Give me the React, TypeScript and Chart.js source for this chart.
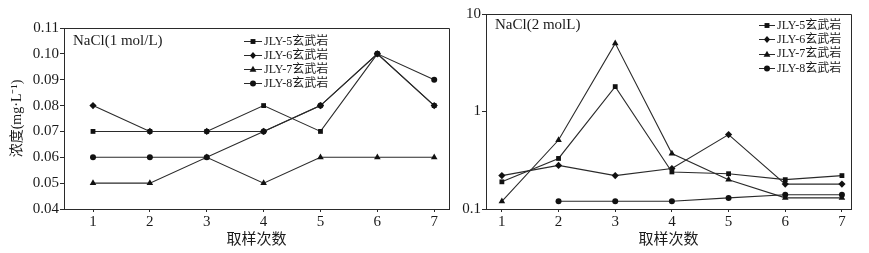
import React, { useEffect, useRef } from 'react';
import { Chart, registerables } from 'chart.js';

Chart.register(...registerables);

// ---------- data ----------
const samples = [1, 2, 3, 4, 5, 6, 7];
const seriesNames = ['JLY-5玄武岩', 'JLY-6玄武岩', 'JLY-7玄武岩', 'JLY-8玄武岩'];
const pointStyles = ['rect', 'rectRot', 'triangle', 'circle'];

// NaCl 1 mol/L
const jly5_1 = [0.07, 0.07, 0.07, 0.08, 0.07, 0.10, 0.08];
const jly6_1 = [0.08, 0.07, 0.07, 0.07, 0.08, 0.10, 0.08];
const jly7_1 = [0.05, 0.05, 0.06, 0.05, 0.06, 0.06, 0.06];
const jly8_1 = [0.06, 0.06, 0.06, 0.07, 0.08, 0.10, 0.09];

// NaCl 2 mol/L
const jly5_2 = [0.19, 0.33, 1.8, 0.24, 0.23, 0.20, 0.22];
const jly6_2 = [0.22, 0.28, 0.22, 0.26, 0.58, 0.18, 0.18];
const jly7_2 = [0.12, 0.51, 5.0, 0.37, 0.20, 0.13, 0.13];
const jly8_2 = [null, 0.12, 0.12, 0.12, 0.13, 0.14, 0.14];

const yTicks1 = [0.04, 0.05, 0.06, 0.07, 0.08, 0.09, 0.10, 0.11];
const yTicks2 = [0.1, 1, 10];
const title1 = 'NaCl(1 mol/L)';
const title2 = 'NaCl(2 molL)';
const yAxisTitle = '浓度(mg·L⁻¹)';
const xAxisTitle = '取样次数';

// ---------- styling ----------
const FONT = "'Liberation Serif', 'Noto Sans CJK SC', serif";
const INK = '#1a1a1a';
const LINE = '#2a2a2a';
const radii = [3.4, 3.6, 3.8, 3.0];

function drawMarker(ctx: CanvasRenderingContext2D, style: string, x: number, y: number, r: number) {
  ctx.beginPath();
  switch (style) {
    case 'rect':
      ctx.rect(x - r * 0.72, y - r * 0.72, r * 1.44, r * 1.44);
      break;
    case 'rectRot':
      ctx.moveTo(x, y - r);
      ctx.lineTo(x + r * 0.85, y);
      ctx.lineTo(x, y + r);
      ctx.lineTo(x - r * 0.85, y);
      ctx.closePath();
      break;
    case 'triangle':
      ctx.moveTo(x, y - r);
      ctx.lineTo(x + r * 0.9, y + r * 0.6);
      ctx.lineTo(x - r * 0.9, y + r * 0.6);
      ctx.closePath();
      break;
    default:
      ctx.arc(x, y, r, 0, Math.PI * 2);
  }
  ctx.fill();
}

const frameLegendPlugin = {
  id: 'frameLegend',
  afterDraw(chart: any, _args: any, opts: any) {
    const { ctx, chartArea: a } = chart;
    const al = (p: number) => Math.round(p - 0.5) + 0.5;
    ctx.save();
    ctx.strokeStyle = LINE;
    ctx.lineWidth = 1;
    ctx.beginPath();
    ctx.moveTo(al(a.left), al(a.top));
    ctx.lineTo(al(a.right), al(a.top));
    ctx.lineTo(al(a.right), al(a.bottom));
    ctx.stroke();

    // panel title
    ctx.fillStyle = INK;
    ctx.font = `15px ${FONT}`;
    ctx.textBaseline = 'middle';
    ctx.textAlign = 'left';
    ctx.fillText(opts.title, opts.titleX, opts.titleY);

    // legend
    ctx.font = `12px ${FONT}`;
    for (let i = 0; i < seriesNames.length; i++) {
      const y = opts.legY + i * opts.legGap;
      ctx.strokeStyle = LINE;
      ctx.beginPath();
      ctx.moveTo(opts.legX0, Math.round(y) + 0.5);
      ctx.lineTo(opts.legX1, Math.round(y) + 0.5);
      ctx.stroke();
      ctx.fillStyle = '#111';
      drawMarker(ctx, pointStyles[i], (opts.legX0 + opts.legX1) / 2, Math.round(y) + 0.5, radii[i]);
      ctx.fillStyle = INK;
      ctx.fillText(seriesNames[i], opts.legX1 + 2, y + 0.5);
    }
    ctx.restore();
  },
};

type PanelCfg = {
  left: number;
  width: number;
  series: (number | null)[][];
  log: boolean;
  yMin: number;
  yMax: number;
  yTicks: number[];
  yLabel: (v: number) => string;
  yWidth: number;
  yTitle: boolean;
  xMin: number;
  xMax: number;
  padRight: number;
  padTop: number;
  tickPad: number;
  plug: any;
};

function buildConfig(c: PanelCfg): any {
  return {
    type: 'line',
    data: {
      datasets: c.series.map((vals, i) => ({
        label: seriesNames[i],
        data: samples.map((s, j) => ({ x: s, y: vals[j] })),
        borderColor: LINE,
        borderWidth: 1.1,
        pointStyle: pointStyles[i],
        pointRadius: radii[i],
        pointBackgroundColor: '#111',
        pointBorderColor: '#111',
        pointBorderWidth: 0,
        tension: 0,
        spanGaps: false,
      })),
    },
    options: {
      responsive: false,
      animation: false,
      events: [],
      layout: { padding: { left: 0, right: c.padRight, top: c.padTop, bottom: 0 } },
      plugins: {
        legend: { display: false },
        tooltip: { enabled: false },
        frameLegend: c.plug,
      },
      scales: {
        x: {
          type: 'linear',
          min: c.xMin,
          max: c.xMax,
          afterBuildTicks: (s: any) => {
            s.ticks = samples.map((v) => ({ value: v }));
          },
          afterFit: (s: any) => {
            s.height = 44;
          },
          ticks: {
            font: { family: FONT, size: 15 },
            color: INK,
            padding: 1,
            maxRotation: 0,
            callback: (v: any) => String(v),
          },
          grid: { drawOnChartArea: false, drawTicks: true, tickLength: 3, color: LINE },
          border: { color: LINE, width: 1 },
          title: {
            display: true,
            text: xAxisTitle,
            font: { family: FONT, size: 15 },
            color: INK,
            padding: { top: 0, bottom: 4 },
          },
        },
        y: {
          type: c.log ? 'logarithmic' : 'linear',
          min: c.yMin,
          max: c.yMax,
          afterBuildTicks: (s: any) => {
            s.ticks = c.yTicks.map((v) => ({ value: v }));
          },
          afterFit: (s: any) => {
            s.width = c.yWidth;
          },
          ticks: {
            font: { family: FONT, size: 15 },
            color: INK,
            padding: c.tickPad,
            callback: (v: any) => c.yLabel(Number(v)),
          },
          grid: { drawOnChartArea: false, drawTicks: true, tickLength: 4, color: LINE },
          border: { color: LINE, width: 1 },
          title: {
            display: c.yTitle,
            text: yAxisTitle,
            font: { family: FONT, size: 14 },
            color: INK,
            padding: { top: 9, bottom: 0 },
          },
        },
      },
    },
    plugins: [frameLegendPlugin],
  };
}

function Panel({ cfg }: { cfg: PanelCfg }) {
  const ref = useRef<HTMLCanvasElement>(null);
  useEffect(() => {
    const chart = new Chart(ref.current as HTMLCanvasElement, buildConfig(cfg));
    return () => chart.destroy();
  }, []);
  return (
    <canvas
      ref={ref}
      width={cfg.width}
      height={253}
      style={{ position: 'absolute', left: cfg.left, top: 0, width: cfg.width, height: 253 }}
    />
  );
}

const leftPanel: PanelCfg = {
  left: 0,
  width: 460,
  series: [jly5_1, jly6_1, jly7_1, jly8_1],
  log: false,
  yMin: 0.04,
  yMax: 0.11,
  yTicks: yTicks1,
  yLabel: (v) => v.toFixed(2),
  yWidth: 64,
  yTitle: true,
  xMin: 0.49,
  xMax: 7.26,
  padRight: 11,
  padTop: 28,
  tickPad: 1,
  plug: {
    title: title1,
    titleX: 73,
    titleY: 41,
    legX0: 244,
    legX1: 262,
    legY: 41,
    legGap: 14,
  },
};

const rightPanel: PanelCfg = {
  left: 460,
  width: 409,
  series: [jly5_2, jly6_2, jly7_2, jly8_2],
  log: true,
  yMin: 0.1,
  yMax: 10,
  yTicks: yTicks2,
  yLabel: (v) => (v < 1 ? v.toFixed(1) : String(Math.round(v))),
  yWidth: 26,
  yTitle: false,
  xMin: 0.72,
  xMax: 7.16,
  padRight: 18,
  padTop: 14,
  tickPad: 1,
  plug: {
    title: title2,
    titleX: 35,
    titleY: 25,
    legX0: 299,
    legX1: 315,
    legY: 25,
    legGap: 14.3,
  },
};

export default function App() {
  return (
    <div style={{ position: 'fixed', left: 0, top: 0, width: 869, height: 253, background: '#fff' }}>
      <Panel cfg={leftPanel} />
      <Panel cfg={rightPanel} />
    </div>
  );
}
